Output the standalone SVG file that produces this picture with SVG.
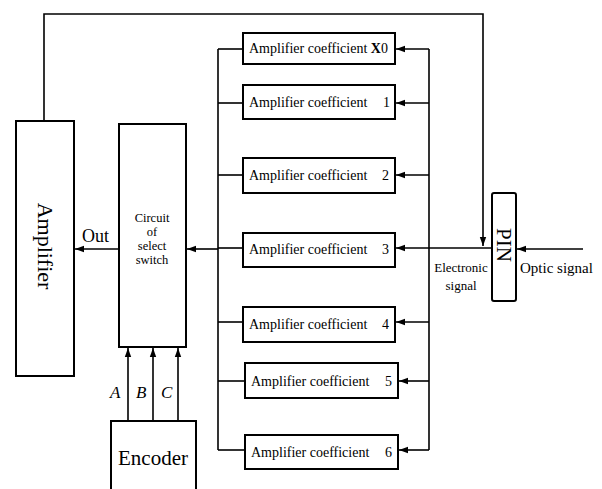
<svg xmlns="http://www.w3.org/2000/svg" width="602" height="489" viewBox="0 0 602 489">
<style>
.box{fill:#fff;stroke:#000;stroke-width:2}
.ln{fill:none;stroke:#000;stroke-width:1.6}
.t{font-family:"Liberation Serif",serif;fill:#000}
.s13{font-size:14px}
</style>
<defs>
<marker id="ah" markerWidth="10" markerHeight="8" refX="9" refY="4" orient="auto" markerUnits="userSpaceOnUse">
<path d="M0,0.8 L9,4 L0,7.2 Z" fill="#000"/>
</marker>
</defs>
<rect width="602" height="489" fill="#fff"/>
<g id="connectors">
<path class="ln" d="M44,121 V14 H483 V246" marker-end="url(#ah)"/>
<path class="ln" d="M218,49 V450"/>
<path class="ln" d="M429,49 V450"/>
<path class="ln" d="M218,49 H243"/>
<path class="ln" d="M218,103 H243"/>
<path class="ln" d="M218,175 H243"/>
<path class="ln" d="M218,248 H243"/>
<path class="ln" d="M218,322 H243"/>
<path class="ln" d="M218,381 H245"/>
<path class="ln" d="M218,450 H245"/>
<path class="ln" d="M429,49 H396" marker-end="url(#ah)"/>
<path class="ln" d="M429,103 H396" marker-end="url(#ah)"/>
<path class="ln" d="M429,175 H396" marker-end="url(#ah)"/>
<path class="ln" d="M492,248 H396" marker-end="url(#ah)"/>
<path class="ln" d="M429,322 H396" marker-end="url(#ah)"/>
<path class="ln" d="M429,381 H399" marker-end="url(#ah)"/>
<path class="ln" d="M429,450 H399" marker-end="url(#ah)"/>
<path class="ln" d="M218,249 H187" marker-end="url(#ah)"/>
<path class="ln" d="M119,249 H75" marker-end="url(#ah)"/>
<path class="ln" d="M583,249 H517" marker-end="url(#ah)"/>
<path class="ln" d="M128,421 V348" marker-end="url(#ah)"/>
<path class="ln" d="M153,421 V348" marker-end="url(#ah)"/>
<path class="ln" d="M178,421 V348" marker-end="url(#ah)"/>
</g>
<g id="amplifier">
<rect class="box" x="16" y="121" width="58" height="255"/>
<text class="t" font-size="22" text-anchor="middle" transform="translate(45,246) rotate(90)" dy="7">Amplifier</text>
</g>
<g id="switch">
<rect class="box" x="119" y="124" width="67" height="223"/>
<text class="t" font-size="12.5" text-anchor="middle"><tspan x="152" y="222">Circuit</tspan><tspan x="152" y="236">of</tspan><tspan x="152" y="250">select</tspan><tspan x="152" y="264">switch</tspan></text>
</g>
<text class="t" font-size="18" x="82" y="242">Out</text>
<g id="encoder">
<path class="box" d="M111,489 V421 H196 V489"/>
<text class="t" font-size="21" text-anchor="middle" x="153" y="465">Encoder</text>
</g>
<text class="t" font-size="17" font-style="italic" x="110" y="398">A</text>
<text class="t" font-size="17" font-style="italic" x="136" y="398">B</text>
<text class="t" font-size="17" font-style="italic" x="161" y="398">C</text>
<g id="coef0"><rect class="box" x="243" y="33" width="152" height="31"/><text class="t s13" x="249" y="53">Amplifier coefficient <tspan font-weight="bold">X</tspan>0</text></g>
<g id="coef1"><rect class="box" x="243" y="85" width="152" height="34"/><text class="t s13" x="249" y="107">Amplifier coefficient<tspan x="383">1</tspan></text></g>
<g id="coef2"><rect class="box" x="243" y="158" width="152" height="35"/><text class="t s13" x="249" y="180">Amplifier coefficient<tspan x="382">2</tspan></text></g>
<g id="coef3"><rect class="box" x="243" y="233" width="152" height="34"/><text class="t s13" x="249" y="254">Amplifier coefficient<tspan x="382">3</tspan></text></g>
<g id="coef4"><rect class="box" x="243" y="307" width="152" height="35"/><text class="t s13" x="249" y="329">Amplifier coefficient<tspan x="382">4</tspan></text></g>
<g id="coef5"><rect class="box" x="245" y="363" width="153" height="35"/><text class="t s13" x="251" y="386">Amplifier coefficient<tspan x="385">5</tspan></text></g>
<g id="coef6"><rect class="box" x="245" y="435" width="153" height="34"/><text class="t s13" x="251" y="457">Amplifier coefficient<tspan x="385">6</tspan></text></g>
<g id="pin">
<rect class="box" x="492" y="193" width="24" height="108" rx="2"/>
<text class="t" font-size="21" text-anchor="middle" transform="translate(504,245) rotate(90)" dy="7">PIN</text>
</g>
<text class="t" font-size="13" text-anchor="middle"><tspan x="461" y="272">Electronic</tspan><tspan x="461" y="290">signal</tspan></text>
<text class="t" font-size="15" x="520" y="273">Optic signal</text>
</svg>
